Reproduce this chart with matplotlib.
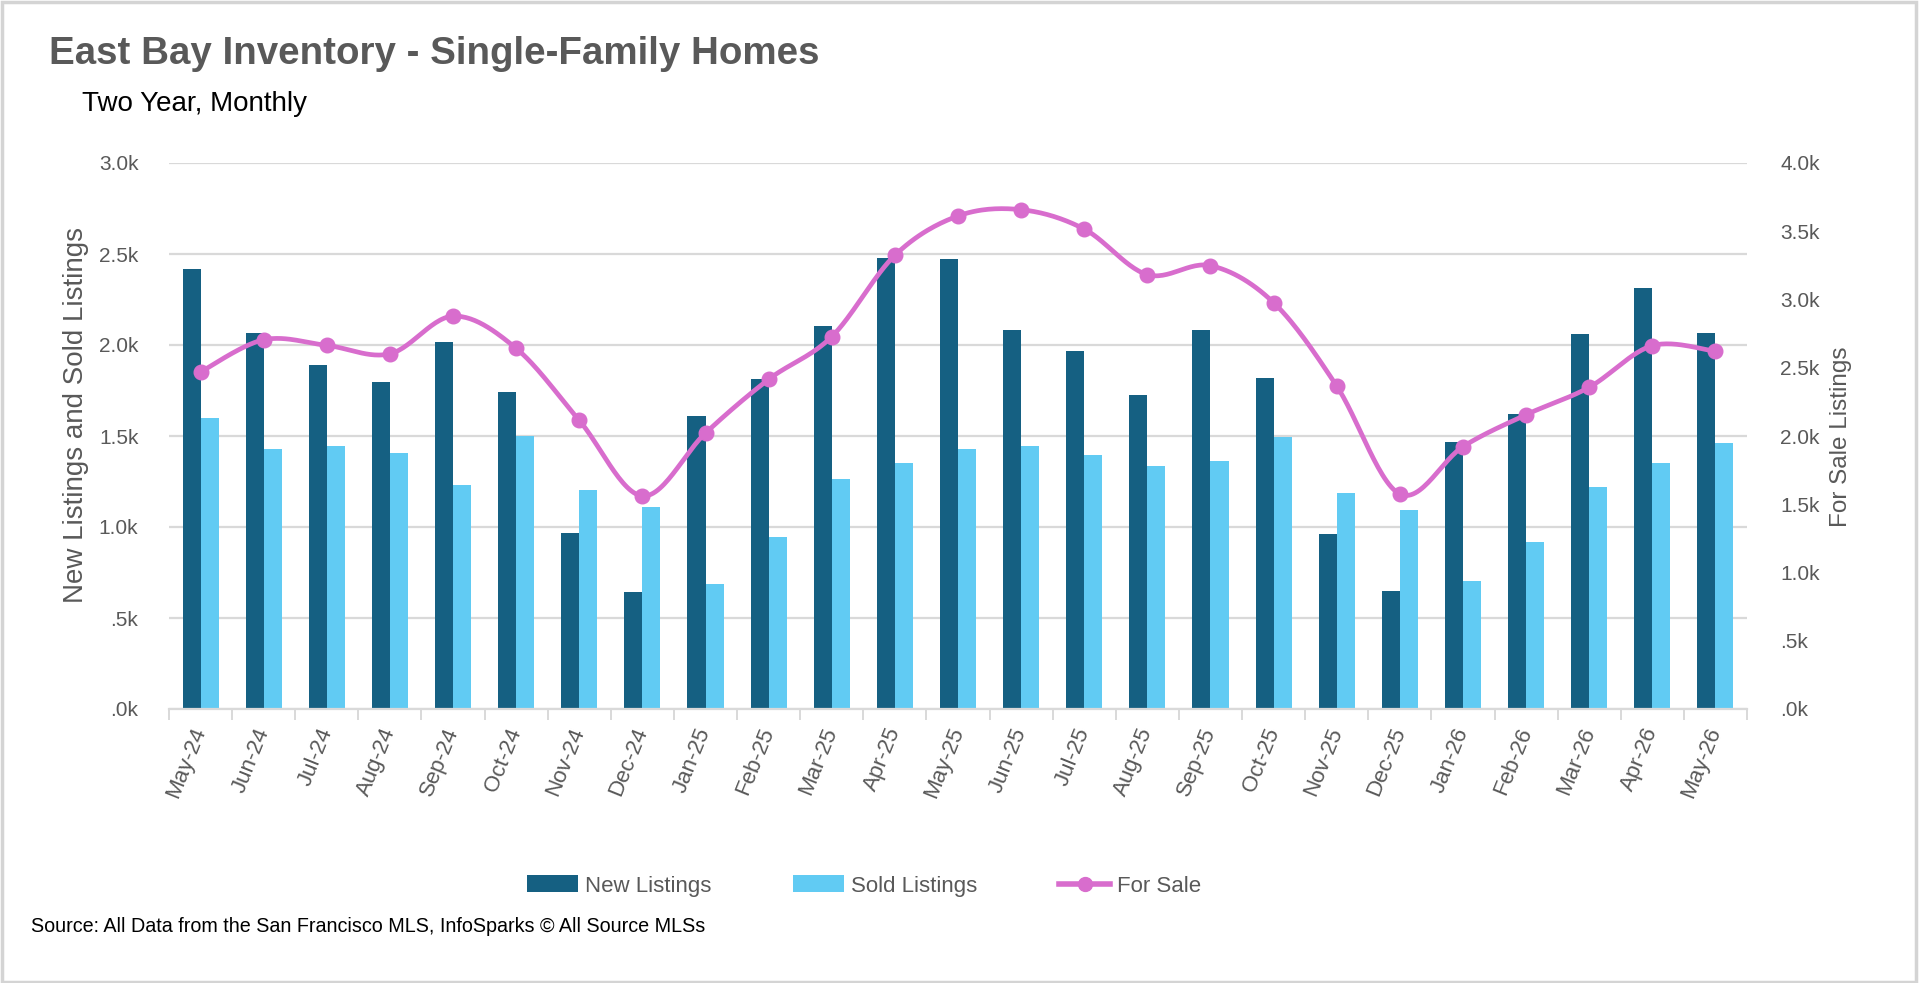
import matplotlib
matplotlib.use("Agg")
import matplotlib.pyplot as plt
import numpy as np
from matplotlib.patches import Rectangle, Patch
from matplotlib.lines import Line2D

# ---------------- data ----------------
months = ["May-24", "Jun-24", "Jul-24", "Aug-24", "Sep-24", "Oct-24", "Nov-24", "Dec-24",
          "Jan-25", "Feb-25", "Mar-25", "Apr-25", "May-25", "Jun-25", "Jul-25", "Aug-25",
          "Sep-25", "Oct-25", "Nov-25", "Dec-25", "Jan-26", "Feb-26", "Mar-26", "Apr-26", "May-26"]
new_listings = [2420, 2067, 1888, 1795, 2016, 1744, 967, 644, 1610, 1815, 2106, 2480, 2473,
                2084, 1969, 1723, 2081, 1819, 962, 648, 1469, 1623, 2059, 2313, 2066]
sold_listings = [1598, 1429, 1443, 1407, 1230, 1500, 1203, 1112, 685, 945, 1264, 1353, 1430,
                 1447, 1397, 1333, 1363, 1495, 1187, 1095, 703, 918, 1220, 1353, 1462]
for_sale = [2469, 2705, 2664, 2602, 2878, 2642, 2114, 1561, 2022, 2415, 2728, 3324, 3612,
            3658, 3516, 3182, 3248, 2977, 2366, 1575, 1922, 2156, 2357, 2662, 2620]
left_ticks = [0, 500, 1000, 1500, 2000, 2500, 3000]
left_labels = [".0k", ".5k", "1.0k", "1.5k", "2.0k", "2.5k", "3.0k"]
right_ticks = [0, 500, 1000, 1500, 2000, 2500, 3000, 3500, 4000]
right_labels = [".0k", ".5k", "1.0k", "1.5k", "2.0k", "2.5k", "3.0k", "3.5k", "4.0k"]

# ---------------- style ----------------
C_NEW = "#156082"
C_SOLD = "#61CBF3"
C_SALE = "#D86DCD"
C_TXT = "#595959"
C_GRID = "#D9D9D9"
NARROW = ["Liberation Sans", "DejaVu Sans"]
REG = ["Liberation Sans", "DejaVu Sans"]

W, H = 1920, 983
fig = plt.figure(figsize=(W / 100, H / 100), dpi=100)
fig.patch.set_facecolor("white")

def fx(px):
    return px / W

def fy(py):
    return 1 - py / H

ax_l, ax_r, ax_t, ax_b = 169, 1747, 163, 709
ax = fig.add_axes([fx(ax_l), fy(ax_b), fx(ax_r - ax_l), (ax_b - ax_t) / H])
ax2 = ax.twinx()

x = np.arange(len(months))
bw = 1 / 3.5
ax.bar(x - bw / 2, new_listings, width=bw, color=C_NEW, zorder=2, label="New Listings")
ax.bar(x + bw / 2, sold_listings, width=bw, color=C_SOLD, zorder=2, label="Sold Listings")

# smoothed line (Bezier through points, like a spreadsheet smoothed line)
pts = np.column_stack([x, np.array(for_sale, dtype=float)])
P = np.vstack([pts[0], pts, pts[-1]])
curve = []
t = np.linspace(0, 1, 30)[:, None]
for i in range(1, len(P) - 2):
    p0, p1, p2, p3 = P[i - 1], P[i], P[i + 1], P[i + 2]
    c1 = p1 + (p2 - p0) / 6
    c2 = p2 - (p3 - p1) / 6
    seg = ((1 - t) ** 3) * p1 + 3 * ((1 - t) ** 2) * t * c1 + 3 * (1 - t) * t ** 2 * c2 + t ** 3 * p2
    curve.append(seg)
curve = np.vstack(curve)
ax2.plot(curve[:, 0], curve[:, 1], color=C_SALE, lw=3.4, solid_capstyle="round", zorder=3)
ax2.plot(x, for_sale, "o", color=C_SALE, markersize=10.5, zorder=4)

ax.set_xlim(-0.5, len(months) - 0.5)
ax.set_ylim(0, 3000)
ax2.set_ylim(0, 4000)

ax.set_yticks(left_ticks)
ax.set_yticklabels(left_labels)
ax2.set_yticks(right_ticks)
ax2.set_yticklabels(right_labels)
for a in (ax, ax2):
    for s in a.spines.values():
        s.set_visible(False)
    a.tick_params(axis="y", length=0, labelsize=15, labelcolor=C_TXT)
    for lab in a.get_yticklabels():
        lab.set_family(REG)
ax.tick_params(axis="y", pad=22)
ax2.tick_params(axis="y", pad=24)

ax.grid(axis="y", color=C_GRID, lw=1.6, zorder=0)
ax.set_axisbelow(True)
ax.spines["bottom"].set_visible(True)
ax.spines["bottom"].set_color(C_GRID)
ax.spines["bottom"].set_linewidth(1.6)

ax.set_xticks(x)
ax.set_xticklabels(months, rotation=68, ha="right", va="center", rotation_mode="anchor",
                   family=REG, fontsize=16, color=C_TXT)
ax.tick_params(axis="x", length=0, pad=14)
ax.set_xticks(np.arange(-0.5, len(months), 1), minor=True)
ax.tick_params(axis="x", which="minor", length=8, width=1.4, color=C_GRID, direction="out")

# texts
fig.text(fx(49), fy(54), "East Bay Inventory - Single-Family Homes", fontsize=27.7,
         fontweight="bold", color=C_TXT, family=NARROW, va="center", ha="left")
fig.text(fx(82), fy(104), "Two Year, Monthly", fontsize=20, color="black",
         family=NARROW, va="center", ha="left")
fig.text(fx(76), fy(415), "New Listings and Sold Listings", fontsize=20, color=C_TXT,
         family=NARROW, rotation=90, va="center", ha="center")
fig.text(fx(1841), fy(437), "For Sale Listings", fontsize=17.5, color=C_TXT,
         family=NARROW, rotation=90, va="center", ha="center")
fig.text(fx(31), fy(927), "Source: All Data from the San Francisco MLS, InfoSparks \u00a9 All Source MLSs",
         fontsize=14.2, color="black", family=NARROW, va="center", ha="left")

handles = [Patch(facecolor=C_NEW, edgecolor="none"),
           Patch(facecolor=C_SOLD, edgecolor="none"),
           Line2D([0], [0], color=C_SALE, lw=4, marker="o", markersize=10)]
leg = fig.legend(handles, ["New Listings", "Sold Listings", "For Sale"], ncol=3,
                 loc="center", bbox_to_anchor=(fx(864), fy(886)), frameon=False,
                 handlelength=2.3, handleheight=0.8, handletextpad=0.3, columnspacing=3.7,
                 prop={"family": NARROW, "size": 16})
for txt in leg.get_texts():
    txt.set_color(C_TXT)

fig.patches.append(Rectangle((0.001, 0.001), 0.997, 0.997, transform=fig.transFigure,
                             fill=False, edgecolor="#D4D4D4", lw=2.5))

fig.savefig("out.png", dpi=100, facecolor="white")
